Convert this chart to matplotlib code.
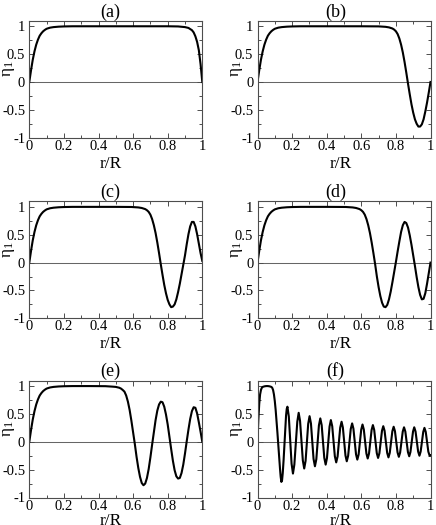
import matplotlib
matplotlib.use("Agg")
import matplotlib.pyplot as plt
from matplotlib.ticker import MultipleLocator, FuncFormatter

plt.rcParams['font.family'] = ['Liberation Serif', 'DejaVu Serif']
plt.rcParams['mathtext.fontset'] = 'custom'
plt.rcParams['mathtext.rm'] = 'Liberation Serif'
plt.rcParams['mathtext.it'] = 'Liberation Serif:italic'
plt.rcParams['axes.unicode_minus'] = False

# ---- data ----
titles = ['(a)', '(b)', '(c)', '(d)', '(e)', '(f)']
x_ticks = [0, 0.2, 0.4, 0.6, 0.8, 1]
y_ticks = [-1, -0.5, 0, 0.5, 1]

rise_r = [0, 0.01, 0.02, 0.03, 0.04, 0.05, 0.06, 0.07, 0.08, 0.09, 0.10, 0.12, 0.14, 0.17, 0.20, 0.25]
rise_eta = [0, 0.21, 0.40, 0.55, 0.67, 0.76, 0.83, 0.875, 0.91, 0.935, 0.955, 0.975, 0.985, 0.993, 0.997, 1.0]

a_r = [0.80, 0.86, 0.90, 0.92, 0.94, 0.95, 0.96, 0.97, 0.98, 0.99, 1.0]
a_eta = [1.0, 0.997, 0.985, 0.97, 0.93, 0.89, 0.82, 0.72, 0.57, 0.32, 0.0]

b_r = [0.60, 0.70, 0.74, 0.76, 0.78, 0.79, 0.80, 0.81, 0.82, 0.83, 0.84, 0.85, 0.86, 0.87, 0.88,
       0.89, 0.90, 0.91, 0.92, 0.93, 0.94, 0.95, 0.96, 0.97, 0.98, 0.99, 1.0]
b_eta = [1.0, 0.998, 0.99, 0.98, 0.96, 0.94, 0.91, 0.86, 0.78, 0.67, 0.53, 0.36, 0.17, -0.03, -0.22,
         -0.40, -0.55, -0.67, -0.75, -0.80, -0.80, -0.76, -0.67, -0.53, -0.37, -0.19, 0.0]

c_r = [0.50, 0.59, 0.63, 0.65, 0.67, 0.68, 0.69, 0.70, 0.71, 0.72, 0.73, 0.74, 0.75, 0.76, 0.77,
       0.78, 0.79, 0.80, 0.81, 0.82, 0.83, 0.84, 0.85, 0.86, 0.87, 0.88, 0.89, 0.90, 0.91, 0.92,
       0.93, 0.94, 0.95, 0.96, 0.97, 0.98, 0.99, 1.0]
c_eta = [1.0, 0.998, 0.99, 0.98, 0.96, 0.94, 0.91, 0.86, 0.78, 0.67, 0.53, 0.36, 0.17, -0.03, -0.22,
         -0.40, -0.55, -0.67, -0.75, -0.80, -0.79, -0.75, -0.66, -0.53, -0.38, -0.21, -0.04, 0.13, 0.33, 0.51,
         0.65, 0.73, 0.73, 0.65, 0.51, 0.34, 0.17, 0.03]

d_r = [0.40, 0.51, 0.55, 0.57, 0.59, 0.60, 0.61, 0.62, 0.63, 0.64, 0.65, 0.66, 0.67, 0.68,
       0.69, 0.70, 0.71, 0.72, 0.73, 0.74, 0.75, 0.76, 0.77, 0.78, 0.79, 0.80,
       0.81, 0.82, 0.83, 0.84, 0.85, 0.86, 0.87, 0.88, 0.89, 0.90, 0.91,
       0.92, 0.93, 0.94, 0.95, 0.96, 0.97, 0.98, 0.99, 1.0]
d_eta = [1.0, 0.998, 0.99, 0.98, 0.96, 0.94, 0.91, 0.86, 0.78, 0.67, 0.53, 0.36, 0.17, -0.03,
         -0.25, -0.44, -0.60, -0.72, -0.79, -0.80, -0.76, -0.66, -0.52, -0.35, -0.17, 0.01,
         0.20, 0.38, 0.55, 0.67, 0.73, 0.71, 0.63, 0.49, 0.32, 0.13, -0.06,
         -0.26, -0.44, -0.58, -0.66, -0.65, -0.55, -0.38, -0.19, 0.0]

e_r = [0.35, 0.44, 0.48, 0.50, 0.52, 0.53, 0.54, 0.55, 0.56, 0.57, 0.58, 0.59, 0.60, 0.61,
       0.62, 0.63, 0.64, 0.65, 0.66, 0.67, 0.68, 0.69, 0.70, 0.71, 0.72, 0.73, 0.74, 0.75,
       0.76, 0.77, 0.78, 0.79, 0.80, 0.81, 0.82, 0.83, 0.84, 0.85, 0.86, 0.87, 0.88, 0.89,
       0.90, 0.91, 0.92, 0.93, 0.94, 0.95, 0.96, 0.97, 0.98, 0.99, 1.0]
e_eta = [1.0, 0.998, 0.99, 0.985, 0.97, 0.955, 0.93, 0.90, 0.83, 0.72, 0.57, 0.38, 0.17, -0.04,
         -0.27, -0.47, -0.63, -0.74, -0.78, -0.75, -0.65, -0.49, -0.28, -0.05, 0.17, 0.39, 0.56, 0.67,
         0.72, 0.71, 0.63, 0.49, 0.31, 0.09, -0.13, -0.34, -0.51, -0.62, -0.66, -0.65, -0.56, -0.41,
         -0.21, 0.01, 0.22, 0.41, 0.55, 0.62, 0.61, 0.51, 0.35, 0.18, 0.0]

f_r = [0, 0.005, 0.01, 0.015, 0.02, 0.025, 0.03, 0.04, 0.05, 0.06, 0.07, 0.075, 0.08, 0.085,
       0.09, 0.095, 0.10, 0.105, 0.11, 0.115, 0.12, 0.125, 0.13, 0.134, 0.138, 0.142, 0.146,
       0.151, 0.156, 0.161, 0.165, 0.169, 0.173,
       0.181, 0.189, 0.197, 0.205, 0.213, 0.2215, 0.230, 0.238,
       0.246, 0.254, 0.262, 0.270, 0.278, 0.2855, 0.293, 0.301,
       0.309, 0.3165, 0.324, 0.332, 0.340, 0.3475, 0.355, 0.363,
       0.371, 0.3785, 0.386, 0.394, 0.4015, 0.409, 0.4165, 0.424,
       0.432, 0.4395, 0.447, 0.455, 0.463, 0.4705, 0.478, 0.486,
       0.4935, 0.501, 0.5085, 0.516, 0.524, 0.5315, 0.539, 0.547,
       0.5545, 0.562, 0.5695, 0.577, 0.5845, 0.592, 0.5995, 0.607,
       0.6145, 0.622, 0.6295, 0.637, 0.6445, 0.652, 0.6595, 0.667,
       0.6745, 0.682, 0.6895, 0.697, 0.7045, 0.712, 0.7195, 0.727,
       0.7345, 0.742, 0.7495, 0.757, 0.7645, 0.772, 0.7795, 0.787,
       0.7945, 0.802, 0.8095, 0.817, 0.8245, 0.832, 0.8395, 0.847,
       0.8545, 0.862, 0.8695, 0.877, 0.884, 0.8915, 0.899, 0.906,
       0.9135, 0.921, 0.9285, 0.936, 0.943, 0.9505, 0.958, 0.965,
       0.9725, 0.98, 0.9875, 0.995, 1.0]
f_eta = [0, 0.40, 0.68, 0.85, 0.93, 0.97, 0.985, 0.995, 1.0, 1.0, 0.995, 0.99, 0.985, 0.97,
         0.93, 0.85, 0.73, 0.57, 0.38, 0.17, -0.05, -0.28, -0.48, -0.63, -0.72, -0.69, -0.56,
         -0.32, -0.03, 0.27, 0.47, 0.59, 0.63,
         0.454, 0.03, -0.394, -0.57, -0.41, -0.025, 0.36, 0.52,
         0.374, 0.02, -0.334, -0.48, -0.342, -0.01, 0.322, 0.46,
         0.328, 0.01, -0.308, -0.44, -0.314, -0.01, 0.294, 0.42,
         0.298, 0.005, -0.288, -0.41, -0.293, -0.01, 0.273, 0.39,
         0.279, 0.01, -0.259, -0.37, -0.263, -0.005, 0.253, 0.36,
         0.256, 0.005, -0.246, -0.35, -0.25, -0.01, 0.23, 0.33,
         0.235, 0.005, -0.225, -0.32, -0.228, -0.005, 0.218, 0.31,
         0.221, 0.005, -0.211, -0.30, -0.212, 0.0, 0.212, 0.30,
         0.214, 0.005, -0.204, -0.29, -0.207, -0.005, 0.197, 0.28,
         0.198, 0.0, -0.198, -0.28, -0.199, -0.005, 0.189, 0.27,
         0.191, 0.0, -0.191, -0.27, -0.192, -0.005, 0.182, 0.26,
         0.184, 0.0, -0.184, -0.26, -0.184, 0.0, 0.184, 0.26,
         0.185, 0.005, -0.175, -0.25, -0.177, 0.0, 0.177, 0.25,
         0.177, 0.0, -0.177, -0.25, -0.245]

panels = [
    (rise_r + a_r, rise_eta + a_eta),
    (rise_r + b_r, rise_eta + b_eta),
    (rise_r + c_r, rise_eta + c_eta),
    (rise_r + d_r, rise_eta + d_eta),
    (rise_r + e_r, rise_eta + e_eta),
    (f_r, f_eta),
]

# ---- layout ----
W, H = 436, 525
fig = plt.figure(figsize=(W / 100, H / 100), dpi=100)
col_left = [29.3, 257.5]
row_bottom = [137.7, 318.3, 497.5]
ax_w, ax_h = 173.0, 117.0
title_x = [0.47, 0.45]
xlabel_x = [0.47, 0.48]
xlabel_y = [-0.155, -0.155, -0.13]

fmt = FuncFormatter(lambda v, p: f'{v:g}')

for i, (rr, ee) in enumerate(panels):
    row, col = divmod(i, 2)
    ax = fig.add_axes([col_left[col] / W, 1 - row_bottom[row] / H, ax_w / W, ax_h / H])
    ax.axhline(0, color='0.4', lw=0.75, zorder=1)
    ax.plot(rr, ee, color='black', lw=1.5, zorder=2)
    ax.set_xlim(0, 1)
    ax.set_ylim(-1, 1.1)
    ax.set_xticks(x_ticks)
    ax.set_yticks(y_ticks)
    ax.xaxis.set_minor_locator(MultipleLocator(0.1))
    ax.yaxis.set_minor_locator(MultipleLocator(0.25))
    ax.xaxis.set_major_formatter(fmt)
    ax.yaxis.set_major_formatter(fmt)
    ax.tick_params(which='both', direction='in', top=True, right=True,
                   labelsize=10.5, width=0.7, color='0.3')
    ax.tick_params(axis='x', which='both', pad=1.5)
    ax.tick_params(axis='y', which='both', pad=3)
    ax.tick_params(which='major', length=3.5)
    ax.tick_params(which='minor', length=2)
    for s in ax.spines.values():
        s.set_linewidth(0.8)
        s.set_color('0.3')
    ax.set_title(titles[i], fontsize=13, pad=1.5, x=title_x[col])
    ax.set_xlabel('r/R', fontsize=12.5)
    ax.xaxis.set_label_coords(xlabel_x[col], xlabel_y[row])
    ax.set_ylabel(r'$\mathrm{\eta}_{\mathrm{1}}$', fontsize=12.5)
    ax.yaxis.set_label_coords(-0.07, 0.59)

fig.savefig('out.png', dpi=100)
